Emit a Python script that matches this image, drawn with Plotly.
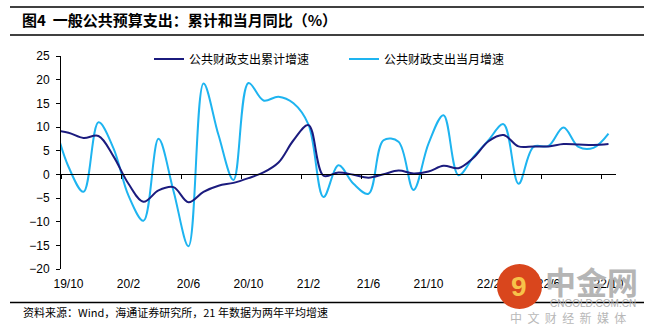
import plotly.graph_objects as go

# ---------------- data ----------------
months = ["19/9", "19/10", "19/11", "19/12", "20/1", "20/2", "20/3", "20/4", "20/5", "20/6",
          "20/7", "20/8", "20/9", "20/10", "20/11", "20/12", "21/1", "21/2", "21/3", "21/4",
          "21/5", "21/6", "21/7", "21/8", "21/9", "21/10", "21/11", "21/12", "22/1", "22/2",
          "22/3", "22/4", "22/5", "22/6", "22/7", "22/8", "22/9", "22/10"]

cumulative = [9.3, 8.8, 7.7, 8.1, 3.8, -2.0, -5.8, -3.4, -2.7, -5.9,
              -3.7, -2.4, -1.8, -0.8, 0.4, 2.5, 7.2, 10.4, -0.3, 0.4,
              -0.1, -0.7, 0.0, 0.8, 0.2, 0.6, 1.8, 1.3, 3.5, 7.0,
              8.3, 5.9, 5.9, 5.9, 6.4, 6.3, 6.2, 6.4]

monthly = [11.5, 1.6, -3.7, 11.0, 5.5, -4.5, -9.8, 7.5, -3.5, -15.2,
           19.2, 8.3, -1.2, 19.3, 15.6, 16.4, 15.0, 10.5, -4.8, 1.9,
           -2.0, -4.1, 7.2, 6.9, -3.3, 6.5, 12.5, -0.2, 3.7, 7.2,
           10.6, -2.0, 5.8, 6.0, 9.9, 5.8, 5.6, 8.6]

tick_labels = ["19/10", "20/2", "20/6", "20/10", "21/2", "21/6", "21/10", "22/2", "22/6", "22/10"]

series_names = ["公共财政支出累计增速", "公共财政支出当月增速"]
title_text = "图4  一般公共预算支出：累计和当月同比（%）"
source_text = "资料来源：Wind，海通证券研究所，21 年数据为两年平均增速"

# ---------------- layout helpers ----------------
W, H = 654, 335
L, R, T, B = 61, 38, 56, 66
PW, PH = W - L - R, H - T - B


def px_x(px):
    return (px - L) / PW


def px_y(py):
    return (H - B - py) / PH


x_idx = [months.index(m) - 1 for m in months]          # 19/10 -> 0
tickvals = [months.index(t) - 1 for t in tick_labels]
boundary_ticks = [v - 0.5 for v in tickvals]

FONT = "Liberation Sans, Arial, Noto Sans CJK SC, sans-serif"
CJK = "Noto Sans CJK SC, sans-serif"

fig = go.Figure()
fig.add_trace(go.Scatter(
    x=x_idx, y=cumulative, name=series_names[0], mode="lines",
    line=dict(color="#1B1B7E", width=2, shape="spline", smoothing=1.0),
    xaxis="x2", yaxis="y"))
fig.add_trace(go.Scatter(
    x=x_idx, y=monthly, name=series_names[1], mode="lines",
    line=dict(color="#1EB4F0", width=2, shape="spline", smoothing=1.0),
    xaxis="x", yaxis="y"))

fig.update_layout(
    width=W, height=H,
    margin=dict(l=L, r=R, t=T, b=B, pad=0),
    paper_bgcolor="white", plot_bgcolor="white",
    font=dict(family=FONT, size=12, color="black"),
    showlegend=True,
    legend=dict(orientation="h", x=px_x(149), y=px_y(59), xanchor="left", yanchor="middle",
                bgcolor="rgba(0,0,0,0)", borderwidth=0, font=dict(family=CJK, size=12),
                entrywidth=150, entrywidthmode="pixels", itemclick=False),
    title=dict(text="<b>" + title_text + "</b>", x=22 / W, xref="container", xanchor="left",
               y=1 - 21 / H, yref="container", yanchor="middle",
               font=dict(family=CJK, size=15, color="black")),
    xaxis=dict(range=[-0.5, 36.5], tickmode="array", tickvals=tickvals, ticktext=tick_labels,
               ticks="", showline=False, showgrid=False, zeroline=False,
               tickfont=dict(size=12, family=FONT), ticklabelstandoff=6),
    xaxis2=dict(overlaying="x", matches="x", anchor="free", position=20 / 45,
                showline=True, linecolor="black", linewidth=1,
                tickmode="array", tickvals=boundary_ticks, ticks="outside", ticklen=4,
                tickcolor="black", showticklabels=False, showgrid=False, zeroline=False),
    yaxis=dict(range=[-20, 25], dtick=5, tick0=0, showline=True, linecolor="black", linewidth=1,
               ticks="outside", ticklen=4, tickcolor="black", showgrid=False, zeroline=False,
               tickfont=dict(size=12, family=FONT), ticklabelstandoff=4),
)

# header / footer rules
for py in (7, 35, 302.5):
    fig.add_shape(type="line", xref="paper", yref="paper",
                  x0=px_x(10), x1=px_x(644), y0=px_y(py), y1=px_y(py),
                  line=dict(color="black", width=1.3))

fig.add_annotation(text=source_text, xref="paper", yref="paper", x=px_x(21), y=px_y(312),
                   xanchor="left", yanchor="middle", showarrow=False,
                   font=dict(family=CJK, size=11, color="black"))

# watermark
fig.add_shape(type="circle", xref="paper", yref="paper", layer="above",
              x0=px_x(497), x1=px_x(542), y0=px_y(309), y1=px_y(264),
              fillcolor="#D9461D", line=dict(width=0))
fig.add_annotation(text="<b>9</b>", xref="paper", yref="paper", x=px_x(519), y=px_y(286),
                   xanchor="center", yanchor="middle",
                   showarrow=False, font=dict(family=FONT, size=28, color="#F7C24A"))
fig.add_annotation(text="<b>中金网</b>", xref="paper", yref="paper", x=px_x(591), y=px_y(280),
                   xanchor="center", yanchor="middle",
                   showarrow=False, font=dict(family=CJK, size=31, color="#B5B5B5"))
fig.add_annotation(text="CNGOLD.COM.CN", xref="paper", yref="paper", x=px_x(593), y=px_y(303.5),
                   xanchor="center", yanchor="middle",
                   showarrow=False, font=dict(family=FONT, size=10, color="#B0B0B0"))
fig.add_annotation(text="中  文  财  经  新  媒  体", xref="paper", yref="paper", x=px_x(568), y=px_y(317),
                   xanchor="center", yanchor="middle",
                   showarrow=False, font=dict(family=CJK, size=12, color="#B8B8B8"))

fig.write_html("out.html")
